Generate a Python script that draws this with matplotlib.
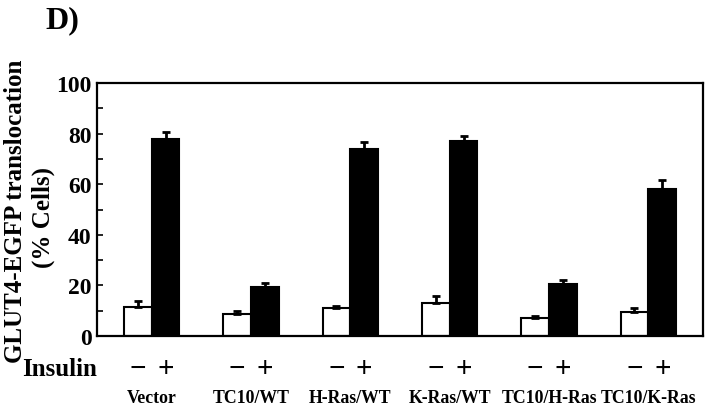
import numpy as np
import matplotlib
matplotlib.use("Agg")
import matplotlib.pyplot as plt
import matplotlib.transforms as mtransforms

plt.rcParams['font.family'] = ['Liberation Serif', 'DejaVu Serif']
plt.rcParams['font.weight'] = 'bold'

# Data (% cells with GLUT4-EGFP translocation)
groups = ['Vector', 'TC10/WT', 'H-Ras/WT', 'K-Ras/WT', 'TC10/H-Ras', 'TC10/K-Ras']
basal = [11.4, 8.6, 10.9, 13.0, 7.2, 9.4]
basal_err = [2.4, 1.4, 0.8, 2.9, 0.8, 1.5]
insulin = [77.8, 19.5, 73.8, 77.0, 20.6, 58.3]
insulin_err = [2.8, 1.5, 2.8, 1.9, 1.5, 3.2]
yticks = [0, 20, 40, 60, 80, 100]

fig = plt.figure(figsize=(7.2, 4.1), dpi=100)
ax = fig.add_axes([97 / 720, 73 / 410, 606 / 720, 253 / 410])

x = np.arange(len(groups))
w = 0.28
err_kw = dict(ecolor='black', elinewidth=2, capsize=3, capthick=2)
ax.bar(x - w / 2, basal, w, color='white', edgecolor='black', linewidth=1.5,
       yerr=[np.zeros(len(basal)), basal_err], error_kw=err_kw, zorder=2)
ax.bar(x + w / 2, insulin, w, color='black', edgecolor='black', linewidth=1.5,
       yerr=[np.zeros(len(insulin)), insulin_err], error_kw=err_kw, zorder=2)

ax.set_xlim(-0.55, 5.55)
ax.set_ylim(0, 100)
ax.set_xticks([])
ax.set_yticks(yticks)
ax.set_yticks(np.arange(10, 100, 20), minor=True)
ax.tick_params(axis='y', which='both', direction='in', length=4, width=1.2,
               labelsize=17, pad=4)
for lab in ax.get_yticklabels():
    lab.set_fontweight('bold')
for sp in ax.spines.values():
    sp.set_linewidth(1.6)

# y axis title, two lines placed by hand
fig.text(16 / 720, 1 - 211 / 410, 'GLUT4-EGFP translocation', rotation=90,
         ha='center', va='center', fontsize=18, fontweight='bold')
fig.text(43 / 720, 1 - 217 / 410, '(% Cells)', rotation=90,
         ha='center', va='center', fontsize=18, fontweight='bold')

trans = mtransforms.blended_transform_factory(ax.transData, ax.transAxes)
for i, g in enumerate(groups):
    ax.text(x[i] - w / 2, -0.13, '\u2212', transform=trans, ha='center',
            va='center', fontsize=21, fontweight='bold')
    ax.text(x[i] + w / 2, -0.13, '+', transform=trans, ha='center',
            va='center', fontsize=21, fontweight='bold')
    ax.text(x[i], -0.245, g, transform=trans, ha='center', va='center',
            fontsize=12.8, fontweight='bold')

fig.text(22 / 720, 1 - 370 / 410, 'Insulin', ha='left', va='center',
         fontsize=18, fontweight='bold')
fig.text(45 / 720, 1 - 21 / 410, 'D)', ha='left', va='center',
         fontsize=23, fontweight='bold')

fig.savefig('out.png', dpi=100)
